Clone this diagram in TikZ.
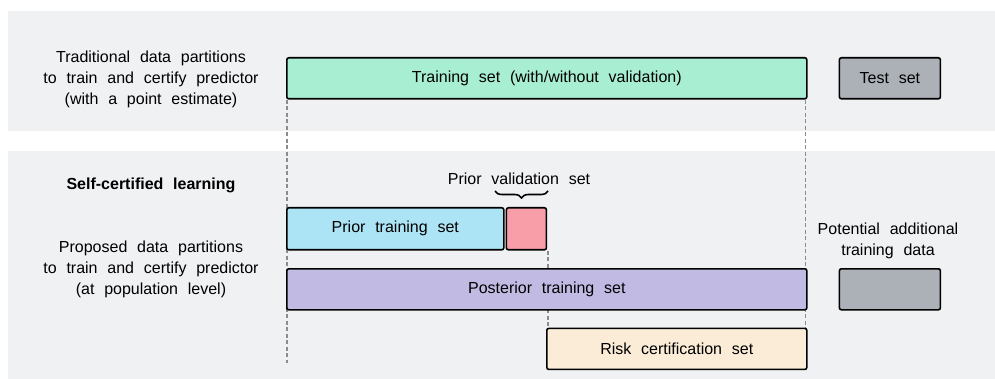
\documentclass[tikz,border=0pt]{standalone}
\usepackage{fontspec}
\setmainfont{Liberation Sans}[WordSpace=2.2]
\usetikzlibrary{positioning}
\usetikzlibrary{decorations.pathreplacing, backgrounds}

\definecolor{panelgray}{RGB}{240,241,243}
\definecolor{traingreen}{RGB}{168,238,210}
\definecolor{testgray}{RGB}{172,177,184}
\definecolor{priorblue}{RGB}{173,228,245}
\definecolor{valpink}{RGB}{248,158,168}
\definecolor{postpurple}{RGB}{193,187,228}
\definecolor{riskcream}{RGB}{250,236,215}
\definecolor{guidegray}{RGB}{140,140,140}

\begin{document}
\begin{tikzpicture}[x=1pt, y=-1pt, node distance = 31pt,
    every node/.style={font=\fontsize{16}{21}\selectfont}]
    \tikzstyle{block} = [rectangle, draw, line width=1.6pt, rounded corners=2pt,
    minimum height=41pt, inner sep=0pt, text centered]
    \tikzstyle{label} = [align=center, inner sep=0pt]
    \tikzstyle{guide} = [draw, guidegray, line width=1.6pt, dash pattern=on 4pt off 2.5pt]
    \tikzstyle{panel} = [fill=panelgray]
    \useasboundingbox (0,0) rectangle (995,379);
    % traditional partitions
    \node [label] (tradtext) at (151,79) {Traditional data partitions\\to train and certify predictor\\(with a point estimate)};
    \node [block, fill=traingreen, minimum width=520pt, anchor=north west] (training) at (286,57) {Training set (with/without validation)};
    \node [block, fill=testgray, minimum width=101pt, right=of training] (test) {Test set};
    % self-certified partitions
    \node [label, font=\fontsize{16}{21}\selectfont\bfseries] (selftext) at (151,185) {Self-certified learning};
    \node [label] (proptext) at (151,269) {Proposed data partitions\\to train and certify predictor\\(at population level)};
    \node [block, fill=priorblue, minimum width=217pt, minimum height=42pt, anchor=north west] (prior) at (286,207) {Prior training set};
    \node [block, fill=valpink, minimum width=40pt, minimum height=42pt, right=1pt of prior] (priorval) {};
    \node [block, fill=postpurple, minimum width=520pt, anchor=north west] (posterior) at (286,268) {Posterior training set};
    \node [block, fill=testgray, minimum width=101pt, right=of posterior] (extra) {};
    \node [block, fill=riskcream, minimum width=260pt, anchor=north east] (risk) at ([yshift=-17pt]posterior.south east) {Risk certification set};
    \node [label] (valtext) at (519,179) {Prior validation set};
    \node [label] (extratext) at (888,241) {Potential additional\\training data};
    \coordinate (bracel) at (495,191);
    \coordinate (bracer) at (548,191);
    \coordinate (leftend) at (287,363);
    \draw [line width=1.6pt, decorate, decoration={brace, mirror, amplitude=7pt}] (bracel) -- (bracer);
    % panels and dashed guides go under the boxes
    \begin{scope}[on background layer]
        \path [panel] (8,11) rectangle (995,131.5);
        \path [panel] (8,151) rectangle (995,378.5);
        \path [guide] ([xshift=1pt]training.south west) -- (leftend);
        \path [guide] ([xshift=-2pt]training.south east) -- ([xshift=-2pt]risk.north east);
        \path [guide] ([xshift=1pt]priorval.south east) -- ([xshift=1pt]priorval.south east |- leftend);
    \end{scope}
\end{tikzpicture}
\end{document}
